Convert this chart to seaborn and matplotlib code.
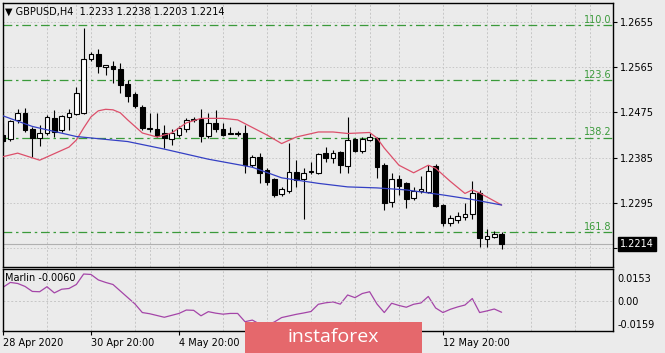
import numpy as np
import pandas as pd
import matplotlib.pyplot as plt
import matplotlib.transforms as mtransforms
from matplotlib.patches import Rectangle
import seaborn as sns

sns.set_style("ticks")
plt.rcParams['font.family'] = ['DejaVu Sans']
plt.rcParams['axes.unicode_minus'] = False

# GBPUSD H4 bars, 28 Apr 2020 20:00 .. 14 May 2020 04:00
opens = [1.2430, 1.2422, 1.2460, 1.2474, 1.2442, 1.2424, 1.2434, 1.2464, 1.2440, 1.2466,
         1.2472, 1.2474, 1.2581, 1.2591, 1.2565, 1.2567, 1.2561, 1.2531, 1.2511, 1.2485,
         1.2442, 1.2442, 1.2434, 1.2422, 1.2430, 1.2442, 1.2460, 1.2462, 1.2428, 1.2454,
         1.2442, 1.2432, 1.2433, 1.2434, 1.2370, 1.2386, 1.2360, 1.2342, 1.2313, 1.2319,
         1.2356, 1.2342, 1.2356, 1.2354, 1.2394, 1.2384, 1.2396, 1.2368, 1.2422, 1.2398,
         1.2420, 1.2424, 1.2370, 1.2297, 1.2342, 1.2334, 1.2305, 1.2319, 1.2317, 1.2368,
         1.2291, 1.2255, 1.2261, 1.2267, 1.2273, 1.2315, 1.2223, 1.2227, 1.2233]
highs = [1.2454, 1.2460, 1.2482, 1.2484, 1.2446, 1.2450, 1.2470, 1.2480, 1.2470, 1.2482,
         1.2525, 1.2642, 1.2595, 1.2601, 1.2569, 1.2577, 1.2573, 1.2539, 1.2515, 1.2489,
         1.2474, 1.2474, 1.2450, 1.2442, 1.2448, 1.2464, 1.2466, 1.2482, 1.2474, 1.2480,
         1.2454, 1.2446, 1.2438, 1.2450, 1.2390, 1.2394, 1.2364, 1.2344, 1.2327, 1.2414,
         1.2380, 1.2364, 1.2376, 1.2394, 1.2406, 1.2400, 1.2398, 1.2466, 1.2424, 1.2426,
         1.2434, 1.2426, 1.2374, 1.2354, 1.2350, 1.2336, 1.2327, 1.2348, 1.2370, 1.2372,
         1.2293, 1.2271, 1.2277, 1.2295, 1.2338, 1.2321, 1.2243, 1.2239, 1.2238]
lows = [1.2414, 1.2418, 1.2454, 1.2436, 1.2386, 1.2408, 1.2430, 1.2426, 1.2436, 1.2440,
        1.2470, 1.2472, 1.2577, 1.2553, 1.2549, 1.2533, 1.2513, 1.2495, 1.2484, 1.2440,
        1.2436, 1.2426, 1.2404, 1.2410, 1.2426, 1.2436, 1.2456, 1.2416, 1.2424, 1.2436,
        1.2428, 1.2432, 1.2428, 1.2354, 1.2366, 1.2334, 1.2330, 1.2307, 1.2309, 1.2315,
        1.2327, 1.2263, 1.2352, 1.2352, 1.2376, 1.2374, 1.2354, 1.2354, 1.2396, 1.2394,
        1.2418, 1.2344, 1.2281, 1.2287, 1.2311, 1.2285, 1.2301, 1.2315, 1.2315, 1.2287,
        1.2249, 1.2249, 1.2255, 1.2261, 1.2263, 1.2207, 1.2207, 1.2225, 1.2203]
closes = [1.2418, 1.2458, 1.2474, 1.2440, 1.2424, 1.2434, 1.2466, 1.2436, 1.2468, 1.2474,
          1.2513, 1.2581, 1.2591, 1.2567, 1.2569, 1.2561, 1.2529, 1.2507, 1.2487, 1.2444,
          1.2444, 1.2428, 1.2424, 1.2434, 1.2444, 1.2460, 1.2462, 1.2428, 1.2454, 1.2442,
          1.2430, 1.2433, 1.2432, 1.2370, 1.2386, 1.2354, 1.2336, 1.2311, 1.2323, 1.2356,
          1.2340, 1.2354, 1.2358, 1.2392, 1.2384, 1.2394, 1.2370, 1.2420, 1.2398, 1.2422,
          1.2426, 1.2366, 1.2295, 1.2342, 1.2329, 1.2303, 1.2319, 1.2323, 1.2358, 1.2289,
          1.2255, 1.2265, 1.2269, 1.2273, 1.2315, 1.2225, 1.2229, 1.2233, 1.2214]

# moving averages (bar index, value)
fast_idx = [0, 2, 5, 9, 10, 11, 12, 13, 14, 15, 16, 17, 19, 21, 23, 25, 27, 30, 32, 34,
            36, 38, 40, 43, 45, 47, 50, 51, 52, 54, 56, 58, 59, 61, 63, 64, 65, 66, 68]
fast_ma = [1.2387, 1.2394, 1.2380, 1.2406, 1.2420, 1.2444, 1.2466, 1.2478, 1.2481, 1.2480,
           1.2474, 1.2460, 1.2434, 1.2426, 1.2434, 1.2454, 1.2463, 1.2463, 1.2460, 1.2445,
           1.2430, 1.2413, 1.2426, 1.2436, 1.2436, 1.2433, 1.2435, 1.2424, 1.2404, 1.2370,
           1.2355, 1.2370, 1.2364, 1.2338, 1.2314, 1.2321, 1.2315, 1.2307, 1.2291]
slow_idx = [0, 4, 10, 17, 22, 28, 34, 38, 43, 47, 51, 55, 60, 64, 68]
slow_ma = [1.2468, 1.2447, 1.2427, 1.2417, 1.2402, 1.2382, 1.2366, 1.2345, 1.2334, 1.2327,
           1.2325, 1.2321, 1.2311, 1.2302, 1.2291]

marlin = [0.0092, 0.0125, 0.0118, 0.0098, 0.0064, 0.0062, 0.0096, 0.0054, 0.0079, 0.0084,
          0.0111, 0.0182, 0.0179, 0.0142, 0.0125, 0.0111, 0.0067, 0.0023, -0.0021, -0.0079,
          -0.0087, -0.0099, -0.0111, -0.0098, -0.0085, -0.0062, -0.0064, -0.0101, -0.0073, -0.0083,
          -0.0090, -0.0085, -0.0085, -0.0141, -0.0130, -0.0157, -0.0163, -0.0143, -0.0113, -0.0102,
          -0.0091, -0.0082, -0.0072, -0.0023, -0.0013, -0.0007, -0.0022, 0.0040, 0.0022, 0.0050,
          0.0062, -0.0021, -0.0079, -0.0016, -0.0031, -0.0043, -0.0023, -0.0014, 0.0030, -0.0048,
          -0.0079, -0.0057, -0.0041, -0.0028, 0.0016, -0.0079, -0.0068, -0.0055, -0.0077]

fib_names = ["110.0", "123.6", "138.2", "161.8"]
fib_levels = [1.2648, 1.2539, 1.2425, 1.2237]

price_ticks = [1.2655, 1.2565, 1.2475, 1.2385, 1.2295, 1.2205]
marlin_ticks = [0.0153, 0.0, -0.0159]
marlin_labels = ["0.0153", "0.00", "-0.0159"]
# labels at bars 36 and 48 sit under the instaforex badge in the original
time_pos = [0, 12, 24, 36, 48, 60]
time_labels = ["28 Apr 2020", "30 Apr 20:00", "4 May 20:00", "", "", "12 May 20:00"]

BG = "#ebebeb"
GRID = "#c6c6c6"
FIB = "#3a9a3a"
FS = 7

fig = plt.figure(figsize=(6.65, 3.53), dpi=100, facecolor=BG)
ax = fig.add_axes([3/665, 1-267/353, 610/665, 264/353], facecolor=BG)
ax2 = fig.add_axes([3/665, 1-331/353, 610/665, 62/353], facecolor=BG)

n = len(opens)
idx = np.arange(n)
o = np.array(opens)
c = np.array(closes)
up = c >= o

# grid
for a in (ax, ax2):
    a.set_xticks(np.arange(6, 84, 6), minor=True)
    a.grid(axis='x', which='both', color=GRID, linestyle=(0, (2, 2)), linewidth=0.7)
    for s in a.spines.values():
        s.set_color('black')
        s.set_linewidth(1)
ax.set_yticks(price_ticks)
ax.grid(axis='y', color=GRID, linestyle=(0, (1.5, 2)), linewidth=0.7)

# candles
ax.vlines(idx, lows, highs, color='black', linewidth=0.8, zorder=3)
ax.bar(idx[up], np.maximum((c - o)[up], 0.00004), bottom=o[up], width=0.62,
       color='white', edgecolor='black', linewidth=0.8, zorder=4)
ax.bar(idx[~up], np.maximum((o - c)[~up], 0.00004), bottom=c[~up], width=0.62,
       color='black', edgecolor='black', linewidth=0.8, zorder=4)

# moving averages
sns.lineplot(x=fast_idx, y=fast_ma, ax=ax, color='#dc4f6a', linewidth=0.9, zorder=5)
sns.lineplot(x=slow_idx, y=slow_ma, ax=ax, color='#3440c4', linewidth=0.9, zorder=5)

# fibo levels
blend = mtransforms.blended_transform_factory(ax.transAxes, ax.transData)
for name, lev in zip(fib_names, fib_levels):
    ax.axhline(lev, color=FIB, linestyle=(0, (7, 3, 2, 3)), linewidth=0.9, zorder=2)
    ax.text(0.997, lev + 0.00005, name, transform=blend, ha='right', va='bottom',
            color=FIB, fontsize=FS, zorder=6)

# bid line
ax.axhline(closes[-1], color='#b0b0b0', linewidth=0.8, zorder=1)

ax.set_xlim(0, 83.19)
ax.set_ylim(1.2168, 1.2692)
ax.yaxis.tick_right()
ax.tick_params(axis='y', length=3, width=0.8, pad=2, labelsize=FS, colors='black')
ax.set_yticklabels([f"{t:.4f}" for t in price_ticks])
ax.tick_params(axis='x', which='both', length=0, labelbottom=False)
ax.set_xlabel("")
ax.set_ylabel("")

ax.text(1.012, closes[-1], f"{closes[-1]:.4f}", transform=blend, ha='left', va='center',
        color='white', fontsize=FS, zorder=10, clip_on=False,
        bbox=dict(boxstyle='square,pad=0.2', facecolor='black', edgecolor='black'))

ax.text(0.003, 0.966, "\u25bc GBPUSD,H4  " + " ".join(f"{v:.4f}" for v in
        (opens[-1], highs[-1], lows[-1], closes[-1])),
        transform=ax.transAxes, ha='left', va='center', fontsize=FS, color='black')

# Marlin sub-window
sns.lineplot(x=idx, y=marlin, ax=ax2, color='#a445a8', linewidth=0.9)
ax2.axhline(0, color=GRID, linestyle=(0, (2, 2)), linewidth=0.7)
ax2.set_xlim(0, 83.19)
ax2.set_ylim(-0.0204, 0.0216)
ax2.yaxis.tick_right()
ax2.set_yticks(marlin_ticks)
ax2.set_yticklabels(marlin_labels)
ax2.tick_params(axis='y', length=0, pad=3, labelsize=FS, colors='black')
ax2.set_xticks(time_pos)
ax2.set_xticklabels(time_labels, ha='left')
ax2.tick_params(axis='x', which='major', length=3, width=0.8, pad=2, labelsize=FS, colors='black')
ax2.tick_params(axis='x', which='minor', length=0)
ax2.set_xlabel("")
ax2.set_ylabel("")
ax2.text(0.003, 0.86, f"Marlin {-0.0060:.4f}", transform=ax2.transAxes, ha='left',
         va='center', fontsize=FS, color='black')

# instaforex badge
fig.patches.append(Rectangle((245/665, 0), 177/665, 31/353, transform=fig.transFigure,
                             facecolor='#e5686c', edgecolor='none', zorder=20))
fig.text(333/665, 1-337/353, "instaforex", ha='center', va='center', color='white',
         fontsize=14, family='Open Sans', zorder=21)

fig.savefig("out.png", dpi=100, facecolor=BG)
